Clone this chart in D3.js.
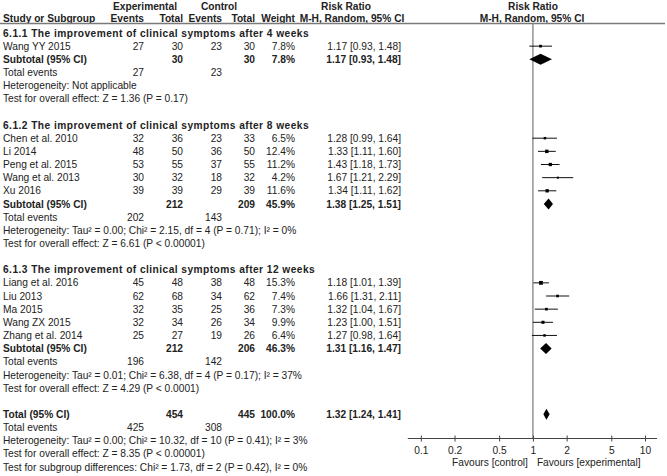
<!DOCTYPE html>
<html>
<head>
<meta charset="utf-8">
<script src="https://cdn.jsdelivr.net/npm/d3@7"></script>
<style>
  html, body { margin: 0; padding: 0; background: #fff; }
  svg { display: block; }
  text { font-family: "Liberation Sans", Arial, sans-serif; font-size: 10.2px; fill: #222; }
  .b { font-weight: bold; }
  .gt { letter-spacing: 0.45px; }
</style>
</head>
<body>
<svg id="chart" width="667" height="476"></svg>
<script>
// ---------- data ----------
const groupTitles = [
  "6.1.1 The improvement of clinical symptoms after 4 weeks",
  "6.1.2 The improvement of clinical symptoms after 8 weeks",
  "6.1.3 The improvement of clinical symptoms after 12 weeks"
];
const studies = ["Wang YY 2015", "Chen et al. 2010", "Li 2014", "Peng et al. 2015", "Wang et al. 2013", "Xu 2016",
                 "Liang et al. 2016", "Liu 2013", "Ma 2015", "Wang ZX 2015", "Zhang et al. 2014"];
const studyGroup = [0, 1, 1, 1, 1, 1, 2, 2, 2, 2, 2];
const expEvents  = [27, 32, 48, 53, 30, 39, 45, 62, 32, 32, 25];
const expTotal   = [30, 36, 50, 55, 32, 39, 48, 68, 35, 34, 27];
const ctrlEvents = [23, 23, 36, 37, 18, 29, 38, 34, 25, 26, 19];
const ctrlTotal  = [30, 33, 50, 55, 32, 39, 48, 62, 36, 34, 26];
const weights    = [7.8, 6.5, 12.4, 11.2, 4.2, 11.6, 15.3, 7.4, 7.3, 9.9, 6.4];
const rr         = [1.17, 1.28, 1.33, 1.43, 1.67, 1.34, 1.18, 1.66, 1.32, 1.23, 1.27];
const rrLow      = [0.93, 0.99, 1.11, 1.18, 1.21, 1.11, 1.01, 1.31, 1.04, 1.00, 0.98];
const rrHigh     = [1.48, 1.64, 1.60, 1.73, 2.29, 1.62, 1.39, 2.11, 1.67, 1.51, 1.64];

const subExpTotal   = [30, 212, 212];
const subCtrlTotal  = [30, 209, 206];
const subExpEvents  = [27, 202, 196];
const subCtrlEvents = [23, 143, 142];
const subWeight     = [7.8, 45.9, 46.3];
const subRR         = [1.17, 1.38, 1.31];
const subLow        = [0.93, 1.25, 1.16];
const subHigh       = [1.48, 1.51, 1.47];
const subHet = [
  "Heterogeneity: Not applicable",
  "Heterogeneity: Tau\u00B2 = 0.00; Chi\u00B2 = 2.15, df = 4 (P = 0.71); I\u00B2 = 0%",
  "Heterogeneity: Tau\u00B2 = 0.01; Chi\u00B2 = 6.38, df = 4 (P = 0.17); I\u00B2 = 37%"
];
const subTest = [
  "Test for overall effect: Z = 1.36 (P = 0.17)",
  "Test for overall effect: Z = 6.61 (P < 0.00001)",
  "Test for overall effect: Z = 4.29 (P < 0.0001)"
];

const totalExpTotal = 454, totalCtrlTotal = 445, totalWeight = 100.0;
const totalExpEvents = 425, totalCtrlEvents = 308;
const totalRR = 1.32, totalLow = 1.24, totalHigh = 1.41;
const totalHet = "Heterogeneity: Tau\u00B2 = 0.00; Chi\u00B2 = 10.32, df = 10 (P = 0.41); I\u00B2 = 3%";
const totalTest = "Test for overall effect: Z = 8.35 (P < 0.00001)";
const subgroupDiff = "Test for subgroup differences: Chi\u00B2 = 1.73, df = 2 (P = 0.42), I\u00B2 = 0%";

const tickValues = [0.1, 0.2, 0.5, 1, 2, 5, 10];
const tickLabels = ["0.1", "0.2", "0.5", "1", "2", "5", "10"];
const favourLeft = "Favours [control]";
const favourRight = "Favours [experimental]";

// ---------- layout ----------
const svg = d3.select("#chart");
const col = { study: 3, evE: 144, totE: 183, evC: 222, totC: 255, w: 295, ci: 401 };
const rowTop = 33, rowH = 13.15, base = 3.6;
const x = d3.scaleLog().domain([0.1, 10]).range([420.8, 645]);
const fmt2 = d3.format(".2f");
const ciText = (m, l, h) => `${fmt2(m)} [${fmt2(l)}, ${fmt2(h)}]`;

// build rows
const rows = [];
groupTitles.forEach((t, g) => {
  rows.push({ type: "group", label: t });
  studies.forEach((s, i) => { if (studyGroup[i] === g) rows.push({ type: "study", i }); });
  rows.push({ type: "sub", g });
  rows.push({ type: "subEvents", g });
  rows.push({ type: "text", label: subHet[g] });
  rows.push({ type: "text", label: subTest[g] });
  rows.push({ type: "blank" });
});
rows.push({ type: "total" });
rows.push({ type: "totalEvents" });
rows.push({ type: "text", label: totalHet });
rows.push({ type: "text", label: totalTest });
rows.push({ type: "text", label: subgroupDiff });
rows.forEach((r, k) => r.y = rowTop + k * rowH);

// ---------- header ----------
const hdr = svg.append("g");
function txt(g, xx, y, s, anchor, bold) {
  return g.append("text").attr("x", xx).attr("y", y + base)
    .attr("text-anchor", anchor || "start").attr("class", bold ? "b" : null).text(s);
}
txt(hdr, 145, 6, "Experimental", "middle", true);
txt(hdr, 219, 6, "Control", "middle", true);
txt(hdr, 346, 6, "Risk Ratio", "middle", true);
txt(hdr, 533, 6, "Risk Ratio", "middle", true);
txt(hdr, col.study, 18.5, "Study or Subgroup", "start", true);
txt(hdr, col.evE, 18.5, "Events", "end", true);
txt(hdr, col.totE, 18.5, "Total", "end", true);
txt(hdr, col.evC, 18.5, "Events", "end", true);
txt(hdr, col.totC, 18.5, "Total", "end", true);
txt(hdr, col.w, 18.5, "Weight", "end", true);
txt(hdr, 352, 18.5, "M-H, Random, 95% CI", "middle", true);
txt(hdr, 532, 18.5, "M-H, Random, 95% CI", "middle", true);
hdr.append("line").attr("x1", 0).attr("x2", 665).attr("y1", 23.5).attr("y2", 23.5)
  .attr("stroke", "#7a7a7a").attr("stroke-width", 1.4);

// ---------- axis ----------
const axisY = 438.5;
svg.append("line").attr("x1", x(1)).attr("x2", x(1)).attr("y1", 23.5).attr("y2", axisY)
  .attr("stroke", "#8a8a8a").attr("stroke-width", 1.4);

const axisG = svg.append("g").attr("transform", `translate(0,${axisY})`)
  .call(d3.axisBottom(x).tickValues(tickValues).tickFormat((d, i) => tickLabels[i]).tickSize(3).tickPadding(5));
axisG.select(".domain").remove();
axisG.append("line").attr("x1", x.range()[0] - 13).attr("x2", x.range()[1] + 12)
  .attr("stroke", "#444").attr("stroke-width", 1.2);
axisG.selectAll(".tick line").attr("y1", -3).attr("y2", 3).attr("stroke", "#444");
axisG.selectAll(".tick text").attr("font-family", "Liberation Sans, Arial, sans-serif")
  .attr("font-size", "10.2px").attr("fill", "#333");
axisG.attr("font-family", null).attr("font-size", null);
txt(svg, x(1) - 5, 462, favourLeft, "end", false);
txt(svg, x(1) + 4, 462, favourRight, "start", false);

// ---------- rows ----------
const body = svg.append("g");
const sqSize = d3.scaleSqrt().domain([0, 16]).range([0, 3.9]);
function diamond(y, m, l, h) {
  const hh = 5.5;
  body.append("path")
    .attr("d", `M${x(l)},${y} L${x(m)},${y - hh} L${x(h)},${y} L${x(m)},${y + hh} Z`)
    .attr("fill", "#000");
}
rows.forEach(r => {
  const y = r.y;
  if (r.type === "group") {
    txt(body, col.study, y, r.label, "start", true).classed("gt", true);
  } else if (r.type === "study") {
    const i = r.i;
    txt(body, col.study, y, studies[i]);
    txt(body, col.evE, y, expEvents[i], "end");
    txt(body, col.totE, y, expTotal[i], "end");
    txt(body, col.evC, y, ctrlEvents[i], "end");
    txt(body, col.totC, y, ctrlTotal[i], "end");
    txt(body, col.w, y, weights[i].toFixed(1) + "%", "end");
    txt(body, col.ci, y, ciText(rr[i], rrLow[i], rrHigh[i]), "end");
    body.append("line").attr("x1", x(rrLow[i])).attr("x2", x(rrHigh[i]))
      .attr("y1", y).attr("y2", y).attr("stroke", "#111").attr("stroke-width", 1);
    const s = Math.max(2, sqSize(weights[i]));
    body.append("rect").attr("x", x(rr[i]) - s / 2).attr("y", y - s / 2)
      .attr("width", s).attr("height", s).attr("fill", "#000");
  } else if (r.type === "sub") {
    const g = r.g;
    txt(body, col.study, y, "Subtotal (95% CI)", "start", true);
    txt(body, col.totE, y, subExpTotal[g], "end", true);
    txt(body, col.totC, y, subCtrlTotal[g], "end", true);
    txt(body, col.w, y, subWeight[g].toFixed(1) + "%", "end", true);
    txt(body, col.ci, y, ciText(subRR[g], subLow[g], subHigh[g]), "end", true);
    diamond(y, subRR[g], subLow[g], subHigh[g]);
  } else if (r.type === "subEvents") {
    txt(body, col.study, y, "Total events");
    txt(body, col.evE, y, subExpEvents[r.g], "end");
    txt(body, col.evC, y, subCtrlEvents[r.g], "end");
  } else if (r.type === "text") {
    txt(body, col.study, y, r.label);
  } else if (r.type === "total") {
    txt(body, col.study, y, "Total (95% CI)", "start", true);
    txt(body, col.totE, y, totalExpTotal, "end", true);
    txt(body, col.totC, y, totalCtrlTotal, "end", true);
    txt(body, col.w, y, totalWeight.toFixed(1) + "%", "end", true);
    txt(body, col.ci, y, ciText(totalRR, totalLow, totalHigh), "end", true);
    diamond(y, totalRR, totalLow, totalHigh);
  } else if (r.type === "totalEvents") {
    txt(body, col.study, y, "Total events");
    txt(body, col.evE, y, totalExpEvents, "end");
    txt(body, col.evC, y, totalCtrlEvents, "end");
  }
});
</script>
</body>
</html>
